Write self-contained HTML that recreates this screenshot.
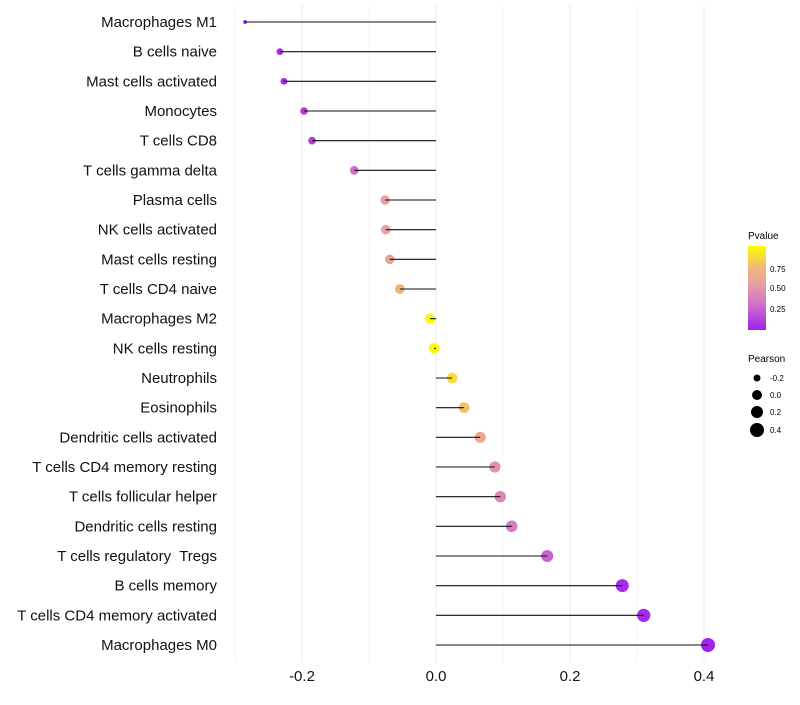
<!DOCTYPE html>
<html><head><meta charset="utf-8"><style>
body{margin:0;background:#fff;font-family:"Liberation Sans",sans-serif;}
svg text{font-family:"Liberation Sans",sans-serif;white-space:pre;}
</style></head><body>
<svg id="chart" width="800" height="700">
<defs><linearGradient id="pg" x1="0" y1="1" x2="0" y2="0">
<stop offset="0" stop-color="#a020f0"/><stop offset="0.3" stop-color="#d070c8"/><stop offset="0.55" stop-color="#e8a0a0"/><stop offset="0.75" stop-color="#f0b878"/><stop offset="1" stop-color="#ffff00"/></linearGradient></defs>
<g id="grid"></g><g id="marks"></g><g id="labels"></g>
<g>
<text x="748" y="239" font-size="10">Pvalue</text>
<rect x="748" y="246" width="18" height="84" fill="url(#pg)"/>
<text x="770" y="272" font-size="8">0.75</text>
<text x="770" y="291" font-size="8">0.50</text>
<text x="770" y="312" font-size="8">0.25</text>
</g>
<g>
<text x="748" y="362" font-size="10">Pearson</text>
<circle cx="757" cy="378" r="3.5"/><text x="770" y="381" font-size="8">-0.2</text>
<circle cx="757" cy="395" r="5"/><text x="770" y="398" font-size="8">0.0</text>
<circle cx="757" cy="412" r="6"/><text x="770" y="415" font-size="8">0.2</text>
<circle cx="757" cy="430" r="7"/><text x="770" y="433" font-size="8">0.4</text>
</g>
</svg>
<script>
const categories=["Macrophages M1","B cells naive","Mast cells activated","Monocytes","T cells CD8","T cells gamma delta","Plasma cells","NK cells activated","Mast cells resting","T cells CD4 naive","Macrophages M2","NK cells resting","Neutrophils","Eosinophils","Dendritic cells activated","T cells CD4 memory resting","T cells follicular helper","Dendritic cells resting","T cells regulatory  Tregs","B cells memory","T cells CD4 memory activated","Macrophages M0"];
const pearson=[-0.285,-0.233,-0.227,-0.197,-0.185,-0.122,-0.076,-0.075,-0.069,-0.054,-0.009,-0.003,0.024,0.042,0.066,0.088,0.096,0.113,0.166,0.278,0.31,0.406];
const pvalue=[0.02,0.05,0.06,0.1,0.12,0.3,0.55,0.55,0.58,0.72,0.98,0.99,0.88,0.78,0.62,0.48,0.42,0.36,0.25,0.05,0.03,0.005];
const xTicks=[-0.2,0,0.2,0.4];
const xTickLabels=["-0.2","0.0","0.2","0.4"];
const NS="http://www.w3.org/2000/svg";
const x=v=>436+v*670;
const y=i=>22+i*(623/21);
const stops=[[0,[160,32,240]],[0.3,[208,112,200]],[0.55,[232,160,160]],[0.75,[240,184,120]],[1,[255,255,0]]];
function col(p){for(let k=1;k<stops.length;k++){if(p<=stops[k][0]){const a=stops[k-1],b=stops[k],t=(p-a[0])/(b[0]-a[0]);return `rgb(${a[1].map((c,j)=>Math.round(c+(b[1][j]-c)*t)).join(',')})`;}}return 'rgb(255,255,0)';}
const rad=v=>2+5*Math.sqrt(Math.max(0,(v+0.285)/0.69));
function mk(t,a,parent){const e=document.createElementNS(NS,t);for(const k in a)e.setAttribute(k,a[k]);parent.appendChild(e);return e;}
const grid=document.getElementById('grid'),marks=document.getElementById('marks'),labels=document.getElementById('labels');
[-0.3,-0.1,0.1,0.3].forEach(v=>{const l=mk('line',{x1:x(v),x2:x(v),y1:5,y2:662,stroke:'#f5f5f5','stroke-width':1},grid);});
xTicks.forEach((v,i)=>{const l=mk('line',{x1:x(v),x2:x(v),y1:5,y2:662,stroke:'#ebebeb','stroke-width':1},grid);
const t=mk('text',{x:x(v),y:681,'font-size':15,'text-anchor':'middle',fill:'#111'},labels);t.textContent=xTickLabels[i];});
categories.forEach((c,i)=>{
const t=mk('text',{x:217,y:y(i)+5,'font-size':15,'text-anchor':'end',fill:'#111'},labels);t.textContent=c;
const ci=mk('circle',{cx:x(pearson[i]),cy:y(i),r:rad(pearson[i]),fill:col(pvalue[i])},marks);
const s=mk('line',{x1:x(0),x2:x(pearson[i]),y1:y(i),y2:y(i),stroke:'#111','stroke-width':1.1},marks);
});
</script>
</body></html>
